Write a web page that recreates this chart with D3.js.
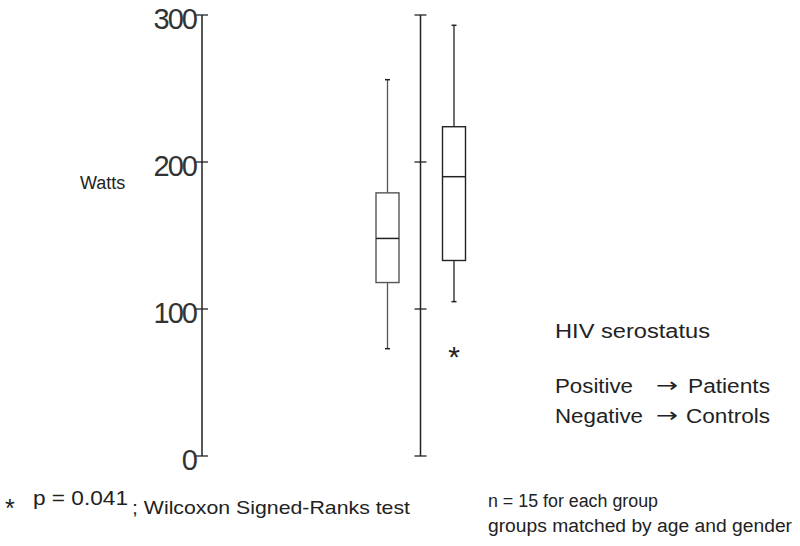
<!DOCTYPE html>
<html>
<head>
<meta charset="utf-8">
<script src="https://cdn.jsdelivr.net/npm/d3@7"></script>
<style>
  body { margin: 0; background: #fff; }
  svg { display: block; font-family: "Liberation Sans", Arial, sans-serif; }
</style>
</head>
<body>
<svg id="chart" width="800" height="546"></svg>
<script>
// groups and box stats (Watts)
const groups = ["Positive", "Negative"];
const whiskerLow = [73, 105];
const q1 = [118, 133];
const medians = [148, 190];
const q3 = [179, 224];
const whiskerHigh = [256, 293];
const outliers = [[], [72]];
const yTicks = [0, 100, 200, 300];

const svg = d3.select("#chart");

const y = d3.scaleLinear().domain([0, 300]).range([456, 15]);
const x = d3.scalePoint().domain(groups).range([387.5, 454]);
const axisX = 202;
const midX = 420.5;
const boxW = 23;

// left axis, ticks crossing the line
svg.append("line")
   .attr("x1", axisX).attr("x2", axisX)
   .attr("y1", y(0)).attr("y2", y(300))
   .attr("stroke", "#222").attr("stroke-width", 1.5);

yTicks.forEach(t => {
    svg.append("line")
       .attr("x1", axisX - 6).attr("x2", axisX + 6)
       .attr("y1", y(t)).attr("y2", y(t))
       .attr("stroke", "#222").attr("stroke-width", 1.3);
    svg.append("text")
       .attr("x", axisX - 6)
       .attr("y", y(t) + 14)
       .attr("text-anchor", "end")
       .attr("font-size", 29)
       .attr("letter-spacing", -2)
       .attr("fill", "#333")
       .text(t);
});

svg.append("text")
   .attr("x", 80).attr("y", 189)
   .attr("font-size", 18).attr("fill", "#222")
   .text("Watts");

// middle reference line
svg.append("line")
   .attr("x1", midX).attr("x2", midX)
   .attr("y1", y(0)).attr("y2", y(300))
   .attr("stroke", "#222").attr("stroke-width", 1.5);
yTicks.forEach(t => {
    svg.append("line")
       .attr("x1", midX - 6).attr("x2", midX + 6)
       .attr("y1", y(t)).attr("y2", y(t))
       .attr("stroke", "#222").attr("stroke-width", 1.3);
});

// boxes
groups.forEach((g, i) => {
    const cx = x(g);
    const col = i === 0 ? "#555" : "#222";
    svg.append("line")
       .attr("x1", cx).attr("x2", cx)
       .attr("y1", y(whiskerLow[i])).attr("y2", y(q1[i]))
       .attr("stroke", col).attr("stroke-width", 1.3);
    svg.append("line")
       .attr("x1", cx).attr("x2", cx)
       .attr("y1", y(q3[i])).attr("y2", y(whiskerHigh[i]))
       .attr("stroke", col).attr("stroke-width", 1.3);
    [whiskerLow[i], whiskerHigh[i]].forEach(v => {
        svg.append("line")
           .attr("x1", cx - 2.5).attr("x2", cx + 2.5)
           .attr("y1", y(v)).attr("y2", y(v))
           .attr("stroke", "#222").attr("stroke-width", 1.5);
    });
    svg.append("rect")
       .attr("x", cx - boxW / 2).attr("y", y(q3[i]))
       .attr("width", boxW).attr("height", y(q1[i]) - y(q3[i]))
       .attr("fill", "none").attr("stroke", col).attr("stroke-width", 1.4);
    svg.append("line")
       .attr("x1", cx - boxW / 2).attr("x2", cx + boxW / 2)
       .attr("y1", y(medians[i])).attr("y2", y(medians[i]))
       .attr("stroke", "#222").attr("stroke-width", 1.5);
    outliers[i].forEach(v => {
        svg.append("text")
           .attr("x", cx).attr("y", y(v) + 17)
           .attr("text-anchor", "middle")
           .attr("font-size", 30).attr("fill", "#222")
           .text("*");
    });
});

// notes
function note(str, xPos, yPos, size, len) {
    const t = svg.append("text")
       .attr("x", xPos).attr("y", yPos)
       .attr("font-size", size).attr("fill", "#222")
       .text(str);
    if (len) t.attr("textLength", len).attr("lengthAdjust", "spacingAndGlyphs");
    return t;
}

note("*", 5, 517, 25);
note("p = 0.041", 33, 505, 20, 95);
note("; Wilcoxon Signed-Ranks test", 132, 514, 19, 278);

note("HIV serostatus", 555, 338, 20, 155);
note("Positive", 555, 393, 20, 78);
note("\u2192", 656, 392, 20, 22).attr("font-family", "DejaVu Sans");
note("Patients", 688, 393, 20, 82);
note("Negative", 555, 423, 20, 88);
note("\u2192", 656, 422, 20, 22).attr("font-family", "DejaVu Sans");
note("Controls", 686, 423, 20, 84);

note("n = 15 for each group", 488, 507, 18, 170);
note("groups matched by  age and gender", 488, 532, 18, 304);
</script>
</body>
</html>
